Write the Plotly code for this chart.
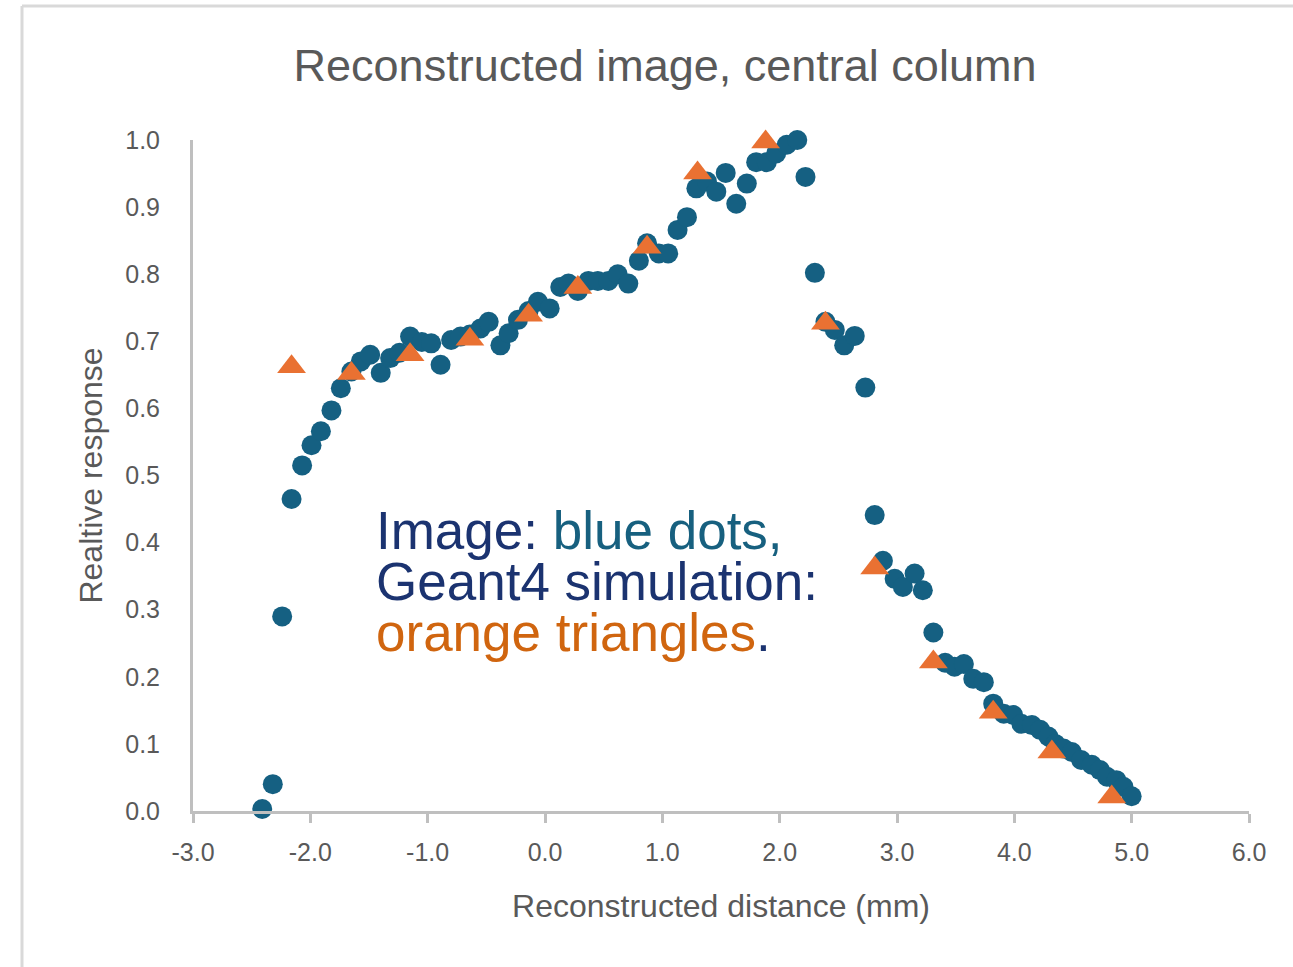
import plotly.graph_objects as go

# Reconstructed image profile along the central column (blue dots)
image_x = [-2.41, -2.32, -2.24, -2.16, -2.07, -1.99, -1.91, -1.82, -1.74, -1.65,
           -1.57, -1.49, -1.40, -1.32, -1.24, -1.15, -1.05, -0.97, -0.89, -0.80,
           -0.72, -0.64, -0.55, -0.48, -0.38, -0.31, -0.23, -0.14, -0.06, 0.04,
           0.13, 0.20, 0.28, 0.37, 0.45, 0.54, 0.62, 0.71, 0.80, 0.87,
           0.97, 1.05, 1.13, 1.21, 1.29, 1.38, 1.46, 1.54, 1.63, 1.72,
           1.80, 1.89, 1.97, 2.06, 2.15, 2.22, 2.30, 2.39, 2.47, 2.55,
           2.64, 2.73, 2.81, 2.88, 2.98, 3.05, 3.15, 3.22, 3.31, 3.41,
           3.49, 3.57, 3.65, 3.74, 3.82, 3.91, 3.99, 4.06, 4.15, 4.22,
           4.29, 4.35, 4.42, 4.49, 4.57, 4.66, 4.73, 4.79, 4.87, 4.93, 5.00]
image_y = [0.003, 0.040, 0.290, 0.465, 0.515, 0.545, 0.566, 0.597, 0.630, 0.655,
           0.670, 0.680, 0.653, 0.675, 0.683, 0.707, 0.699, 0.697, 0.665, 0.702,
           0.707, 0.710, 0.719, 0.729, 0.694, 0.712, 0.732, 0.745, 0.759, 0.749,
           0.781, 0.786, 0.775, 0.790, 0.790, 0.790, 0.800, 0.786, 0.820, 0.846,
           0.831, 0.831, 0.866, 0.885, 0.928, 0.938, 0.923, 0.951, 0.905, 0.935,
           0.967, 0.967, 0.980, 0.993, 1.000, 0.945, 0.802, 0.729, 0.717, 0.694,
           0.708, 0.631, 0.441, 0.373, 0.346, 0.334, 0.354, 0.329, 0.266, 0.221,
           0.215, 0.219, 0.197, 0.192, 0.160, 0.145, 0.143, 0.130, 0.128, 0.121,
           0.111, 0.100, 0.093, 0.088, 0.076, 0.069, 0.061, 0.051, 0.046, 0.036, 0.022]

# Geant4 simulation (orange triangles)
sim_x = [-2.16, -1.65, -1.15, -0.64, -0.14, 0.28, 0.87, 1.30, 1.88, 2.39,
         2.81, 3.31, 3.82, 4.32, 4.83]
sim_y = [0.662, 0.652, 0.680, 0.703, 0.739, 0.780, 0.840, 0.951, 0.997, 0.727,
         0.362, 0.222, 0.147, 0.088, 0.021]

x_ticks = [-3, -2, -1, 0, 1, 2, 3, 4, 5, 6]
x_tick_text = ["-3.0", "-2.0", "-1.0", "0.0", "1.0", "2.0", "3.0", "4.0", "5.0", "6.0"]
y_ticks = [0.0, 0.1, 0.2, 0.3, 0.4, 0.5, 0.6, 0.7, 0.8, 0.9, 1.0]
y_tick_text = ["0.0", "0.1", "0.2", "0.3", "0.4", "0.5", "0.6", "0.7", "0.8", "0.9", "1.0"]

BLUE = "#156082"
ORANGE = "#E97132"
GREY_TEXT = "#595959"
AXIS_GREY = "#BFBFBF"
FONT = "Liberation Sans, Arial, sans-serif"

W, H = 1293, 967
L, R, T, B = 193, 44, 140, 156

fig = go.Figure()
fig.add_trace(go.Scatter(x=image_x, y=image_y, mode="markers", name="Image", cliponaxis=False,
                         marker=dict(symbol="circle", size=20, color=BLUE, line=dict(width=0))))
fig.add_trace(go.Scatter(x=sim_x, y=sim_y, mode="markers", name="Geant4", cliponaxis=False,
                         marker=dict(symbol="triangle-up", size=25, color=ORANGE, line=dict(width=0))))

pw, ph = W - L - R, H - T - B


def px(xp):
    return (xp - L) / pw


def py(yp):
    return (H - B - yp) / ph


fig.update_layout(
    width=W, height=H,
    margin=dict(l=L, r=R, t=T, b=B, autoexpand=False),
    paper_bgcolor="white", plot_bgcolor="white",
    showlegend=False,
    title=dict(text="Reconstructed image, central column", xref="container", x=665 / W,
               xanchor="center", yref="container", y=1 - 65 / H, yanchor="middle",
               font=dict(family=FONT, size=45, color=GREY_TEXT)),
    xaxis=dict(range=[-3, 6], tickvals=x_ticks, ticktext=x_tick_text,
               showgrid=False, zeroline=False, showline=True, linecolor=AXIS_GREY, linewidth=3,
               ticks="outside", ticklen=9, tickwidth=3, tickcolor=AXIS_GREY,
               ticklabelstandoff=8,
               tickfont=dict(family=FONT, size=25, color=GREY_TEXT),
               title=dict(text="Reconstructed distance (mm)", standoff=30,
                          font=dict(family=FONT, size=32, color=GREY_TEXT))),
    yaxis=dict(range=[0, 1.0], tickvals=y_ticks, ticktext=y_tick_text,
               showgrid=False, zeroline=False, showline=True, linecolor=AXIS_GREY, linewidth=3,
               ticks="", ticklabelstandoff=25,
               tickfont=dict(family=FONT, size=25, color=GREY_TEXT),
               title=dict(text="Realtive response", standoff=14,
                          font=dict(family=FONT, size=32, color=GREY_TEXT))),
)

# Chart frame (top and left edges of the chart area)
fig.add_shape(type="line", xref="paper", yref="paper", x0=px(22), x1=px(W + 5), y0=py(6), y1=py(6),
              line=dict(color="#D9D9D9", width=3), layer="above")
fig.add_shape(type="line", xref="paper", yref="paper", x0=px(22), x1=px(22), y0=py(6), y1=py(H + 5),
              line=dict(color="#D9D9D9", width=3), layer="above")

NAVY = "#1B3370"
TEAL = "#17607F"
DARK_ORANGE = "#D0650F"
note_font = dict(family=FONT, size=53)
lines = [
    (f"<span style='color:{NAVY}'>Image: </span><span style='color:{TEAL}'>blue dots,</span>", 530),
    (f"<span style='color:{NAVY}'>Geant4 simulation:</span>", 581),
    (f"<span style='color:{DARK_ORANGE}'>orange triangles</span><span style='color:{NAVY}'>.</span>", 632),
]
for text, yp in lines:
    fig.add_annotation(text=text, xref="paper", yref="paper", x=px(374), y=py(yp),
                       xanchor="left", yanchor="middle", showarrow=False,
                       font=note_font)

fig.write_html("out.html")
